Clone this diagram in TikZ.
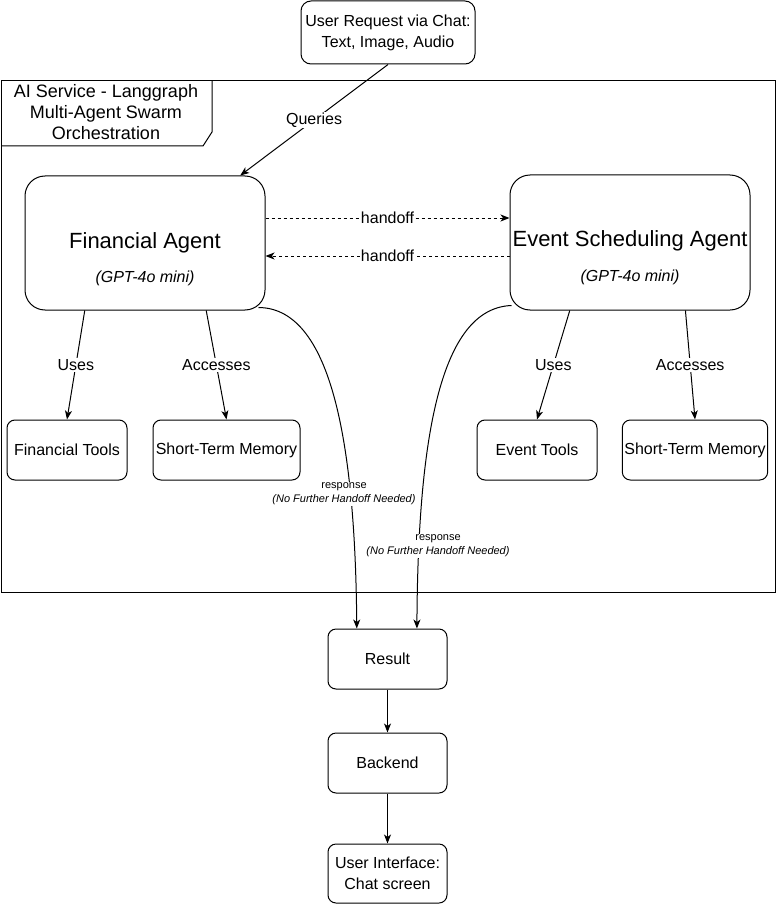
\documentclass[tikz,border=0pt]{standalone}
\usepackage{fontspec}
\setmainfont{Liberation Sans}
\usetikzlibrary{arrows.meta,calc}
\newcommand{\fsz}[2]{\fontsize{#1}{#2}\selectfont}
\tikzset{
  box/.style={draw, line width=1pt, rounded corners=8pt, align=center, inner sep=2pt, font=\fsz{16}{21}},
  agent/.style={draw, line width=1pt, rounded corners=20pt, minimum width=240pt},
  arr/.style={line width=1pt, -{Stealth[length=9pt,width=7pt,inset=2.5pt]}},
  dasharr/.style={arr, dash pattern=on 3pt off 3pt},
  lbl/.style={fill=white, inner sep=1pt, font=\fsz{16}{19}},
  smalllbl/.style={fill=white, inner sep=1pt, align=center, font=\fsz{11}{14}},
}
\begin{document}
\begin{tikzpicture}[x=1pt,y=-1pt]
\useasboundingbox (0,0) rectangle (776,904);
% group frame
\draw[line width=1pt] (1,81) rectangle (775,592);
\draw[line width=1pt] (1,146) -- (203,146) -- (212,132) -- (212,81);
\node[font=\fsz{18}{21}, align=center] (title) at (106,112) {AI Service - Langgraph\\Multi-Agent Swarm\\Orchestration};
% nodes
\node[box, minimum width=174pt, minimum height=63pt, rounded corners=10pt] (req) at (388,32.5) {User Request via Chat:\\Text, Image, Audio};
\node[agent, minimum height=134pt] (fin) at (145,243) {};
\node[agent, minimum height=135pt] (ev) at (630,242.5) {};
\node[font=\fsz{22}{26}] (finname) at (145,243) {Financial Agent};
\node[font=\fsz{16}{19}\itshape] (finmodel) at (145,278) {(GPT-4o mini)};
\node[font=\fsz{22}{26}] (evname) at (630,241) {Event Scheduling Agent};
\node[font=\fsz{16}{19}\itshape] (evmodel) at (630,277) {(GPT-4o mini)};
\node[box, minimum width=120pt, minimum height=60pt] (ftools) at (67,450) {Financial Tools};
\node[box, minimum width=147pt, minimum height=60pt] (fmem) at (226.5,450) {Short-Term Memory};
\node[box, minimum width=120pt, minimum height=60pt] (etools) at (537,450) {Event Tools};
\node[box, minimum width=144pt, minimum height=60pt] (emem) at (695,450) {Short-Term Memory};
\node[box, minimum width=119pt, minimum height=60pt] (result) at (387.5,659) {Result};
\node[box, minimum width=119pt, minimum height=60pt] (backend) at (387.5,763) {Backend};
\node[box, minimum width=119pt, minimum height=59pt] (ui) at (387.5,873.5) {User Interface:\\Chat screen};
% connectors
\draw[arr] (req.south) -- node[lbl] (qlbl) {Queries} ($(fin.north)!0.79!(fin.north east)$);
\draw[dasharr] ([yshift=25pt]fin.east) -- node[lbl] (h1) {handoff} ([yshift=25pt]fin.east -| ev.west);
\draw[dasharr] ([yshift=-13.5pt]ev.west) -- node[lbl] (h2) {handoff} ([yshift=-13.5pt]ev.west -| fin.east);
\draw[arr] ($(fin.south west)!0.25!(fin.south east)$) -- node[lbl] (u1) {Uses} (ftools.north);
\draw[arr] ($(fin.south west)!0.754!(fin.south east)$) -- node[lbl] (a1) {Accesses} (fmem.north);
\draw[arr] ($(ev.south west)!0.25!(ev.south east)$) -- node[lbl] (u2) {Uses} (etools.north);
\draw[arr] ($(ev.south west)!0.73!(ev.south east)$) -- node[lbl] (a2) {Accesses} (emem.north);
\draw[arr] ($(fin.south east)+(-7,-3)$) .. controls (325,308) and (355,420) .. ($(result.north west)!0.244!(result.north east)$);
\draw[arr] ($(ev.south west)+(2,-5)$) .. controls (445,308) and (418,420) .. ($(result.north west)!0.745!(result.north east)$);
\node[smalllbl] (r1) at (344,494) {response\\\textit{(No Further Handoff Needed)}};
\node[smalllbl] (r2) at (438,546) {response\\\textit{(No Further Handoff Needed)}};
\draw[arr] (result.south) -- (backend.north);
\draw[arr] (backend.south) -- (ui.north);
\end{tikzpicture}
\end{document}
